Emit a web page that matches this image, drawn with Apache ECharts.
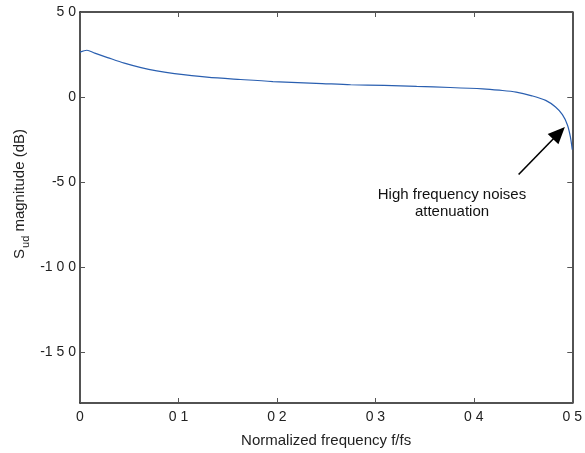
<!DOCTYPE html>
<html>
<head>
<meta charset="utf-8">
<style>
  html, body { margin: 0; padding: 0; background: #fff; }
  #chart { width: 585px; height: 453px; }
</style>
<script src="https://cdn.jsdelivr.net/npm/echarts@6/dist/echarts.min.js"></script>
</head>
<body>
<div id="chart"></div>
<script>
// Normalized frequency (f/fs) of each sample on the response curve
const freq = [0, 0.007, 0.015, 0.028, 0.045, 0.062, 0.078, 0.096, 0.129, 0.163,
              0.196, 0.246, 0.275, 0.309, 0.342, 0.376, 0.409, 0.426, 0.443, 0.459,
              0.473, 0.483, 0.49, 0.495, 0.498, 0.5];
// S_ud magnitude in dB at each frequency
const magDb = [26.4, 27.5, 25.8, 23.2, 19.9, 17.3, 15.4, 13.8, 11.7, 10.3,
               9.1, 7.9, 7.2, 6.8, 6.2, 5.6, 4.8, 4.0, 2.9, 0.7,
               -2.0, -5.9, -10.4, -16.3, -23.2, -31];

// Axis tick values and their printed labels
const xTicks = [0, 0.1, 0.2, 0.3, 0.4, 0.5];
const xTickLabels = ['0', '0 1', '0 2', '0 3', '0 4', '0 5'];
const yTicks = [-150, -100, -50, 0, 50];
const yTickLabels = ['-1 5 0', '-1 0 0', '-5 0', '0', '5 0'];

// Annotation arrow: tail and the centre of the arrowhead, in data coordinates
const arrowTail = [0.4455, -45.6];
const arrowHead = [0.4865, -21.2];
const noteLines = ['High frequency noises', 'attenuation'];

const FONT = 'Liberation Sans, Arial, sans-serif';
const AXIS_COLOR = '#1a1a1a';

const chart = echarts.init(document.getElementById('chart'), null, { renderer: 'canvas' });

function xLabel(v) {
  const i = xTicks.findIndex(t => Math.abs(t - v) < 1e-9);
  return i >= 0 ? xTickLabels[i] : '';
}
function yLabel(v) {
  const i = yTicks.indexOf(v);
  return i >= 0 ? yTickLabels[i] : '';
}

const xBase = {
  type: 'value', min: 0, max: 0.5, interval: 0.1,
  splitLine: { show: false },
  axisLine: { show: true, onZero: false, lineStyle: { color: AXIS_COLOR, width: 1.5 } },
  axisTick: { show: true, inside: true, length: 5, lineStyle: { color: '#555', width: 1 } }
};
const yBase = {
  type: 'value', min: -180, max: 50,
  splitLine: { show: false },
  axisLine: { show: true, onZero: false, lineStyle: { color: AXIS_COLOR, width: 1.5 } },
  axisTick: { show: true, inside: true, length: 5, customValues: yTicks, lineStyle: { color: '#555', width: 1 } }
};

chart.setOption({
  animation: false,
  backgroundColor: '#fff',
  grid: { left: 80, right: 8, top: 12, bottom: 49, containLabel: false },
  xAxis: [
    Object.assign({}, xBase, {
      position: 'bottom',
      name: 'Normalized frequency f/fs',
      nameLocation: 'middle',
      nameGap: 30,
      nameTextStyle: { fontFamily: FONT, fontSize: 15, color: '#222' },
      axisLabel: {
        show: true, margin: 7, formatter: xLabel,
        fontFamily: FONT, fontSize: 14, color: '#222',
        showMinLabel: true, showMaxLabel: true
      }
    }),
    Object.assign({}, xBase, { position: 'top', axisLabel: { show: false } })
  ],
  yAxis: [
    Object.assign({}, yBase, {
      position: 'left',
      axisLabel: {
        show: true, margin: 4, customValues: yTicks, formatter: yLabel,
        fontFamily: FONT, fontSize: 14, color: '#222'
      }
    }),
    Object.assign({}, yBase, { position: 'right', axisLabel: { show: false } })
  ],
  series: [{
    type: 'line',
    xAxisIndex: 0, yAxisIndex: 0,
    data: freq.map((f, i) => [f, magDb[i]]),
    showSymbol: false,
    smooth: 0.3,
    sampling: false,
    lineStyle: { color: '#2a5fb0', width: 1.2 },
    silent: true,
    markLine: {
      silent: true,
      animation: false,
      label: { show: false },
      lineStyle: { color: '#000', width: 1.6, type: 'solid' },
      emphasis: { disabled: true },
      data: [[
        { coord: arrowTail, symbol: 'none' },
        { coord: arrowHead, symbol: 'triangle', symbolSize: [15, 17] }
      ]]
    }
  }],
  graphic: [
    {
      type: 'text', x: 20, y: 194, rotation: Math.PI / 2,
      style: {
        text: '{m|S}{s|ud}{m| magnitude (dB)}',
        align: 'center', verticalAlign: 'middle',
        fill: '#222',
        rich: {
          m: { fontFamily: FONT, fontSize: 15, fill: '#222', lineHeight: 22, verticalAlign: 'middle' },
          s: { fontFamily: FONT, fontSize: 11, fill: '#222', lineHeight: 22, verticalAlign: 'bottom', padding: [0, 0, 0, 1] }
        }
      }
    },
    {
      type: 'text', x: 452, y: 195,
      style: { text: noteLines[0], align: 'center', verticalAlign: 'middle', fill: '#111', font: '15px ' + FONT }
    },
    {
      type: 'text', x: 452, y: 212,
      style: { text: noteLines[1], align: 'center', verticalAlign: 'middle', fill: '#111', font: '15px ' + FONT }
    }
  ]
});
</script>
</body>
</html>
